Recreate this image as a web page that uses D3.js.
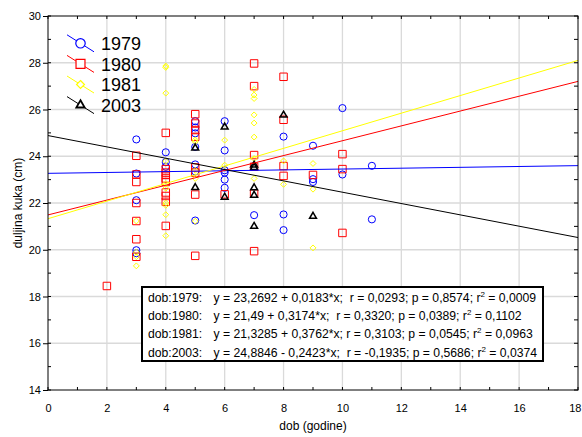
<!DOCTYPE html>
<html><head><meta charset="utf-8">
<script src="https://cdn.jsdelivr.net/npm/d3@7"></script>
<style>
body{margin:0;background:#fff}
svg{display:block}
text{font-family:"Liberation Sans",Arial,sans-serif;fill:#000}
</style>
</head><body><svg id="c" width="582" height="437"></svg>
<script>
// ---------- data ----------
const seriesNames = ["1979", "1980", "1981", "2003"];
const xTicks = [0, 2, 4, 6, 8, 10, 12, 14, 16, 18];
const yTicks = [14, 16, 18, 20, 22, 24, 26, 28, 30];

const pts1979 = [[3,24.72],[3,23.26],[3,22.12],[3,19.98],[3,19.85],
  [4,24.17],[4,23.75],[4,23.55],
  [5,25.5],[5,25.23],[5,24.98],[5,24.4],[5,23.65],[5,23.35],[5,21.25],
  [6,25.5],[6,24.25],[6,23.4],[6,23.3],[6,23.0],[6,22.65],
  [7,21.48],
  [8,24.84],[8,21.51],[8,20.84],
  [9,24.45],[9,23.02],[9,22.9],
  [10,26.06],[10,23.22],
  [11,23.59],[11,21.3]];
const pts1980 = [[2,18.45],
  [3,24.02],[3,23.22],[3,22.9],[3,22.0],[3,21.23],[3,20.45],[3,19.7],
  [4,25.0],[4,23.45],[4,23.3],[4,23.2],[4,23.05],[4,22.9],[4,22.45],[4,22.3],[4,22.05],[4,21.02],
  [5,25.8],[5,25.4],[5,25.12],[5,24.83],[5,23.52],[5,23.3],[5,22.36],[5,19.74],
  [6,22.37],
  [7,27.97],[7,27.0],[7,24.05],[7,23.55],[7,22.4],[7,19.94],
  [8,27.4],[8,25.56],[8,23.58],[8,23.16],
  [9,23.2],
  [10,24.09],[10,23.45],[10,20.72]];
const pts1981 = [[3,21.23],[3,19.9],[3,19.7],[3,19.31],
  [4,27.8],[4,27.86],[4,26.7],[4,23.79],[4,22.83],[4,22.63],[4,22.0],[4,21.9],[4,21.5],[4,20.6],
  [5,24.7],[5,24.62],[5,23.4],[5,23.05],[5,21.22],
  [6,24.69],[6,23.62],
  [7,26.86],[7,26.62],[7,26.47],[7,25.77],[7,25.42],[7,24.82],[7,23.9],[7,23.05],
  [8,23.8],[8,22.8],
  [9,23.69],[9,22.59],[9,20.08]];
const pts2003 = [[5,24.35],[5,22.66],[6,25.25],[6,22.25],
  [7,23.62],[7,23.52],[7,22.65],[7,22.33],[7,21.0],
  [8,25.76],[9,21.43]];

const intercepts = [23.2692, 21.49, 21.3285, 24.8846];
const slopes = [0.0183, 0.3174, 0.3762, -0.2423];

const statLabels = ["dob:1979:", "dob:1980:", "dob:1981:", "dob:2003:"];
const statEq = [
  "y = 23,2692 + 0,0183*x;  r = 0,0293; p = 0,8574; r",
  "y = 21,49 + 0,3174*x;  r = 0,3320; p = 0,0389; r",
  "y = 21,3285 + 0,3762*x; r = 0,3103; p = 0,0545; r",
  "y = 24,8846 - 0,2423*x;  r = -0,1935; p = 0,5686; r"];
const statR2 = [" = 0,0009", " = 0,1102", " = 0,0963", " = 0,0374"];

// ---------- chart ----------
const colors = ["#0000ff", "#ff0000", "#ffff00", "#000000"];
const symbols = [d3.symbolCircle, d3.symbolSquare, d3.symbolDiamond2 || d3.symbolDiamond, d3.symbolTriangle2 || d3.symbolTriangle];
const symSizes = [40, 56, 22, 34];
const symStroke = [1, 1, 1, 1.5];
const allPts = [pts1979, pts1980, pts1981, pts2003];

const svg = d3.select("#c");
const x = d3.scaleLinear().domain([0, 18]).range([48, 578]);
const y = d3.scaleLinear().domain([14, 30]).range([390, 16]);

// grid
svg.append("g").selectAll("line").data(xTicks.slice(1, -1)).join("line")
  .attr("x1", d => x(d)).attr("x2", d => x(d)).attr("y1", y(30)).attr("y2", y(14))
  .attr("stroke", "#dadada").attr("stroke-width", 1.3);
svg.append("g").selectAll("line").data(yTicks.slice(1, -1)).join("line")
  .attr("y1", d => y(d)).attr("y2", d => y(d)).attr("x1", x(0)).attr("x2", x(18))
  .attr("stroke", "#dadada").attr("stroke-width", 1.3);

// clip
svg.append("clipPath").attr("id", "clip").append("rect")
  .attr("x", x(0)).attr("y", y(30)).attr("width", x(18) - x(0)).attr("height", y(14) - y(30));

const plot = svg.append("g").attr("clip-path", "url(#clip)");

allPts.forEach((pts, i) => {
  plot.append("g").selectAll("path").data(pts).join("path")
    .attr("d", d3.symbol().type(symbols[i]).size(symSizes[i]))
    .attr("transform", d => `translate(${x(d[0])},${y(d[1])})`)
    .attr("fill", "none").attr("stroke", colors[i]).attr("stroke-width", symStroke[i]);
});
allPts.forEach((pts, i) => {
  plot.append("line")
    .attr("x1", x(0)).attr("y1", y(intercepts[i]))
    .attr("x2", x(18)).attr("y2", y(intercepts[i] + slopes[i] * 18))
    .attr("stroke", colors[i]).attr("stroke-width", 1);
});

// frame
svg.append("rect").attr("x", x(0)).attr("y", y(30)).attr("width", x(18) - x(0)).attr("height", y(14) - y(30))
  .attr("fill", "none").attr("stroke", "#000").attr("stroke-width", 1);

// axes
const xAxis = svg.append("g").attr("transform", `translate(0,${y(14)})`)
  .call(d3.axisBottom(x).tickValues(xTicks).tickSize(0).tickPadding(14).tickFormat(d3.format("d")));
xAxis.select(".domain").remove();
xAxis.selectAll("text").attr("font-size", 11).style("font-family", "Liberation Sans, Arial, sans-serif");
xAxis.selectAll(".tick").filter(d => d === 18).select("text").attr("text-anchor", "end").attr("x", 581 - x(18));

const yAxis = svg.append("g").attr("transform", `translate(${x(0)},0)`)
  .call(d3.axisLeft(y).tickValues(yTicks).tickSize(5).tickPadding(2).tickFormat(d3.format("d")));
yAxis.select(".domain").remove();
yAxis.selectAll("text").attr("font-size", 11).style("font-family", "Liberation Sans, Arial, sans-serif");

// minor ticks
const minorX = d3.range(0, 19);
svg.append("g").selectAll("line").data(minorX).join("line")
  .attr("x1", d => x(d)).attr("x2", d => x(d)).attr("y1", y(14)).attr("y2", y(14) - 3)
  .attr("stroke", "#000");
svg.append("g").selectAll("line").data(minorX).join("line")
  .attr("x1", d => x(d)).attr("x2", d => x(d)).attr("y1", y(30)).attr("y2", y(30) + 3)
  .attr("stroke", "#000");
const minorY = d3.range(14, 31);
svg.append("g").selectAll("line").data(minorY).join("line")
  .attr("y1", d => y(d)).attr("y2", d => y(d)).attr("x1", x(18)).attr("x2", x(18) - 4)
  .attr("stroke", "#000");
svg.append("g").selectAll("line").data(minorY).join("line")
  .attr("y1", d => y(d)).attr("y2", d => y(d)).attr("x1", x(0)).attr("x2", x(0) + 3)
  .attr("stroke", "#000");

// axis titles
svg.append("text").attr("x", 313).attr("y", 430).attr("text-anchor", "middle")
  .attr("font-size", 12).text("dob (godine)");
svg.append("text").attr("transform", "translate(22,203) rotate(-90)").attr("text-anchor", "middle")
  .attr("font-size", 12).text("duljina kuka (cm)");

// legend
const legSizes = [70, 80, 40, 50];
seriesNames.forEach((name, i) => {
  const ly = 43.3 + i * 20.6;
  const g = svg.append("g");
  g.append("line").attr("x1", 67).attr("y1", ly - 8.5).attr("x2", 94).attr("y2", ly + 8.5)
    .attr("stroke", colors[i]).attr("stroke-width", 1);
  g.append("path").attr("d", d3.symbol().type(symbols[i]).size(legSizes[i])())
    .attr("transform", `translate(80.5,${ly})`)
    .attr("fill", "#fff").attr("stroke", colors[i]).attr("stroke-width", i === 3 ? 1.8 : 1.2);
  g.append("text").attr("x", 101).attr("y", ly + 6.6).attr("font-size", 18).text(name);
});

// stats box
svg.append("rect").attr("x", 142).attr("y", 287).attr("width", 401).attr("height", 74)
  .attr("fill", "#fff").attr("stroke", "#000").attr("stroke-width", 2);
statLabels.forEach((lab, i) => {
  const by = 301.5 + i * 18.4;
  svg.append("text").attr("x", 148).attr("y", by).attr("font-size", 12.2).text(lab);
  const t = svg.append("text").attr("x", 213.5).attr("y", by).attr("font-size", 12.2)
    .style("white-space", "pre").attr("xml:space", "preserve");
  t.append("tspan").text(statEq[i]);
  t.append("tspan").attr("dy", -5).attr("font-size", 8).text("2");
  t.append("tspan").attr("dy", 5).text(statR2[i]);
});
</script>
</body></html>
